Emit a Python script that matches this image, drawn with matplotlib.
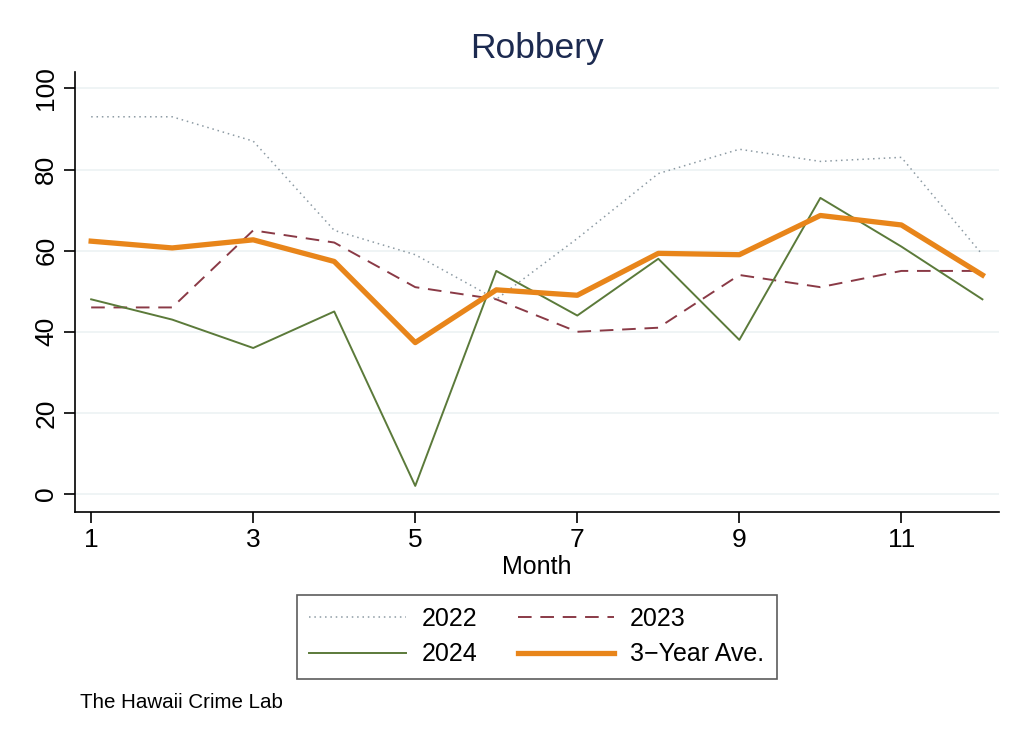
import numpy as np
import matplotlib
matplotlib.use("Agg")
import matplotlib.pyplot as plt

plt.rcParams["font.family"] = ["Liberation Sans", "DejaVu Sans"]

# Monthly robbery counts
months = np.arange(1, 13)
y2022 = [93, 93, 87, 65, 59, 48, 63, 79, 85, 82, 83, 59]
y2023 = [46, 46, 65, 62, 51, 48, 40, 41, 54, 51, 55, 55]
y2024 = [48, 43, 36, 45, 2, 55, 44, 58, 38, 73, 61, 48]
avg3 = np.mean([y2022, y2023, y2024], axis=0)

xticks = [1, 3, 5, 7, 9, 11]
yticks = [0, 20, 40, 60, 80, 100]

fig = plt.figure(figsize=(10.24, 7.44), dpi=100)
ax = fig.add_axes([0.0732, 0.312, 0.902, 0.591])

l22, = ax.plot(months, y2022, color="#8c9aa3", linestyle=(0, (1, 2.5)), lw=1.1, label="2022")
l23, = ax.plot(months, y2023, color="#8a3a46", linestyle=(0, (7, 4.5)), lw=1.4, label="2023")
l24, = ax.plot(months, y2024, color="#5b7a3a", linestyle="-", lw=1.4, label="2024")
lav, = ax.plot(months, avg3, color="#e8851a", linestyle="-", lw=3.8, label="3\u2212Year Ave.")

# Grid
for yv in yticks:
    ax.axhline(yv, color="#eef3f5", lw=1.3, zorder=0)

ax.set_xlim(0.8, 12.2)
ax.set_ylim(-4.4, 104)
ax.set_xticks(xticks)
ax.set_yticks(yticks)
ax.tick_params(axis="both", labelsize=19, length=8, width=1.2, direction="out")
ax.tick_params(axis="y", labelrotation=90, pad=4)
for lbl in ax.get_yticklabels():
    lbl.set_va("center")
ax.spines["top"].set_visible(False)
ax.spines["right"].set_visible(False)
ax.spines["left"].set_linewidth(1.2)
ax.spines["bottom"].set_linewidth(1.2)

ax.set_xlabel("Month", fontsize=18, labelpad=2)
ax.set_title("Robbery", fontsize=25.5, color="#1c2a50", pad=10)

# column-first fill: order gives rows (2022, 2023) / (2024, 3-Year)
leg = ax.legend([l22, l24, l23, lav], ["2022", "2024", "2023", "3\u2212Year Ave."],
                loc="upper center", bbox_to_anchor=(0.5, -0.16), ncol=2,
                fontsize=18, frameon=True, fancybox=False, edgecolor="#333333",
                handlelength=3.85, columnspacing=1.6, borderpad=0.5,
                labelspacing=0.45, handletextpad=0.65)
leg.get_frame().set_linewidth(1.2)

fig.text(0.078, 0.049, "The Hawaii Crime Lab", fontsize=14.8)

fig.savefig("out.png", dpi=100, facecolor="white")
